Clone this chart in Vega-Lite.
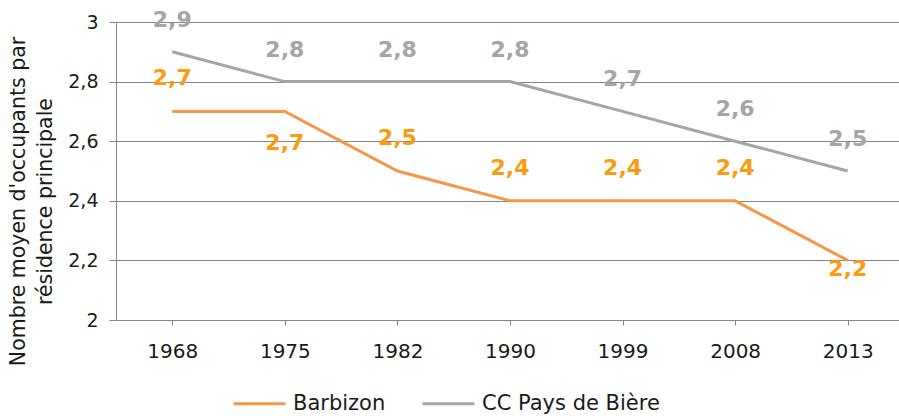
{
  "$schema": "https://vega.github.io/schema/vega-lite/v6.json",
  "autosize": "none",
  "width": 788,
  "height": 298,
  "padding": {"left": 116, "top": 22, "right": 0, "bottom": 96},
  "background": "white",
  "config": {
    "locale": {"number": {"decimal": ",", "thousands": " ", "grouping": [3], "currency": ["", " €"]}},
    "font": "DejaVu Sans",
    "view": {"stroke": null}
  },
  "data": {
    "values": [
      {"year": "1968", "series": "Barbizon", "value": 2.7},
      {"year": "1975", "series": "Barbizon", "value": 2.7},
      {"year": "1982", "series": "Barbizon", "value": 2.5},
      {"year": "1990", "series": "Barbizon", "value": 2.4},
      {"year": "1999", "series": "Barbizon", "value": 2.4},
      {"year": "2008", "series": "Barbizon", "value": 2.4},
      {"year": "2013", "series": "Barbizon", "value": 2.2},
      {"year": "1968", "series": "CC Pays de Bière", "value": 2.9},
      {"year": "1975", "series": "CC Pays de Bière", "value": 2.8},
      {"year": "1982", "series": "CC Pays de Bière", "value": 2.8},
      {"year": "1990", "series": "CC Pays de Bière", "value": 2.8},
      {"year": "1999", "series": "CC Pays de Bière", "value": 2.7},
      {"year": "2008", "series": "CC Pays de Bière", "value": 2.6},
      {"year": "2013", "series": "CC Pays de Bière", "value": 2.5}
    ]
  },
  "encoding": {
    "x": {
      "field": "year", "type": "ordinal",
      "scale": {"type": "point", "padding": 0.5},
      "axis": {
        "title": null, "labelAngle": 0, "labelFontSize": 20, "labelColor": "#1a1a1a",
        "labelFont": "DejaVu Sans", "labelPadding": 16,
        "domainColor": "#868686", "tickColor": "#868686", "tickSize": 5, "grid": false
      }
    },
    "y": {
      "field": "value", "type": "quantitative",
      "scale": {"domain": [2, 3], "nice": false, "zero": false},
      "axis": {
        "values": [2, 2.2, 2.4, 2.6, 2.8, 3],
        "format": ".1~f",
        "labelFontSize": 19, "labelColor": "#1a1a1a", "labelPadding": 11,
        "domainColor": "#868686", "tickColor": "#868686", "tickSize": 7,
        "gridColor": "#868686", "gridWidth": 1,
        "title": ["Nombre moyen d'occupants par", "résidence principale"],
        "titleFontSize": 20.5, "titleFontWeight": "normal", "titleColor": "#1a1a1a",
        "titleLineHeight": 27, "titleX": -88, "titleY": 179, "titleAlign": "center",
        "titleBaseline": "bottom", "titleAngle": -90
      }
    }
  },
  "layer": [
    {
      "mark": {"type": "line", "strokeWidth": 3},
      "encoding": {
        "color": {
          "field": "series", "type": "nominal",
          "scale": {"domain": ["Barbizon", "CC Pays de Bière"], "range": ["#F79646", "#A5A5A5"]},
          "legend": {
            "title": null, "orient": "none", "direction": "horizontal",
            "legendX": 116, "legendY": 354,
            "symbolType": "stroke", "symbolSize": 2700, "symbolStrokeWidth": 3,
            "labelFontSize": 21, "labelColor": "#1a1a1a", "labelOffset": 6,
            "labelLimit": 400, "columnPadding": 30
          }
        }
      }
    },
    {
      "transform": [{"filter": "datum.series == 'CC Pays de Bière'"}],
      "mark": {"type": "text", "dy": -32, "fontSize": 22, "fontWeight": "bold", "color": "#A5A5A5"},
      "encoding": {"text": {"field": "value", "type": "quantitative", "format": ".1f"}}
    },
    {
      "transform": [{"filter": "datum.series == 'Barbizon' && datum.year != '1975' && datum.year != '2013'"}],
      "mark": {"type": "text", "dy": -33, "fontSize": 22, "fontWeight": "bold", "color": "#FF9A0E"},
      "encoding": {"text": {"field": "value", "type": "quantitative", "format": ".1f"}}
    },
    {
      "transform": [{"filter": "datum.series == 'Barbizon' && datum.year == '1975'"}],
      "mark": {"type": "text", "dy": 32, "fontSize": 22, "fontWeight": "bold", "color": "#FF9A0E"},
      "encoding": {"text": {"field": "value", "type": "quantitative", "format": ".1f"}}
    },
    {
      "transform": [{"filter": "datum.series == 'Barbizon' && datum.year == '2013'"}],
      "mark": {"type": "text", "dy": 9, "fontSize": 22, "fontWeight": "bold", "color": "#FF9A0E"},
      "encoding": {"text": {"field": "value", "type": "quantitative", "format": ".1f"}}
    }
  ]
}
